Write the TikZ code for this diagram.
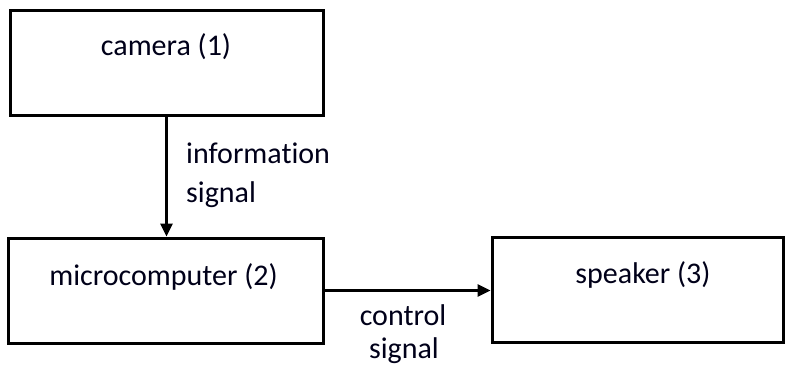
\documentclass[tikz,border=0pt]{standalone}
\usepackage{fontspec}
\setmainfont[Ligatures=NoCommon]{Carlito}
\usetikzlibrary{arrows.meta,calc}
\begin{document}
\begin{tikzpicture}[x=1pt,y=-1pt,
  blockbox/.style={draw=black,line width=3pt,minimum width=#1,minimum height=105pt,inner sep=0pt,fill=white},
  lbl/.style={font=\fontsize{30}{36}\selectfont,inner sep=0pt,text=black!90!blue},
  conn/.style={line width=2.6pt,-{Triangle[length=13pt,width=12pt]}}]
\useasboundingbox (0,0) rectangle (785,367);
\node[blockbox=313pt] (camera) at (166.5,62.5) {};
\node[blockbox=315pt] (micro) at (165.5,290.5) {};
\node[blockbox=291pt] (speaker) at (637.5,289.5) {};
\node[lbl,anchor=base] (tcam) at (166,55) {camera (1)};
\node[lbl,anchor=base] (tmic) at (163.5,285) {microcomputer (2)};
\node[lbl,anchor=base] (tspk) at (643,283) {speaker (3)};
\node[lbl,anchor=base west] (tinfo) at (186,163) {information};
\node[lbl,anchor=base west] (tsig1) at (186,202) {signal};
\node[lbl,anchor=base] (tctrl) at (403,325) {control};
\node[lbl,anchor=base] (tsig2) at (404,358) {signal};
\draw[conn] (camera.south) -- (camera.south |- micro.north);
\draw[conn] (micro.east) -- (micro.east -| speaker.west);
\end{tikzpicture}
\end{document}
